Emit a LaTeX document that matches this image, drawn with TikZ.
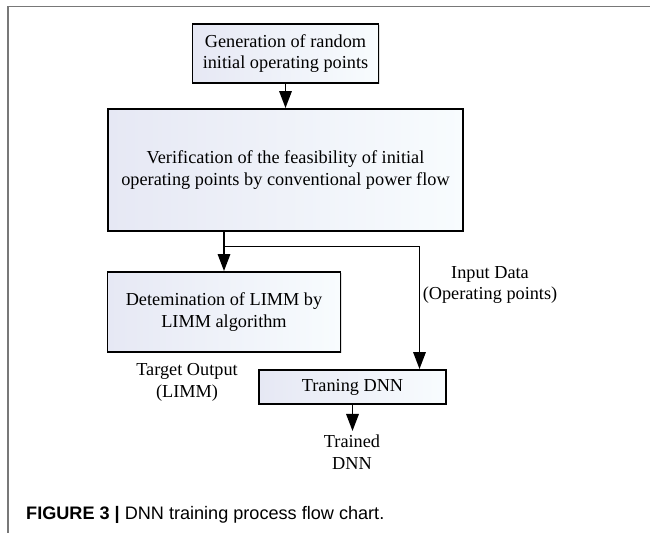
\documentclass[tikz,border=0pt]{standalone}
\usepackage{fontspec}
\setmainfont{Liberation Serif}
\newfontfamily\capfont{Liberation Sans}
\usetikzlibrary{arrows.meta, positioning, calc, shadows}
\definecolor{frameline}{RGB}{120, 120, 120}
\definecolor{shadeL}{RGB}{230, 232, 244}
\definecolor{shadeR}{RGB}{248, 252, 254}

\begin{document}
\begin{tikzpicture}[font=\fontsize{10.4}{12.2}\selectfont,
        b/.style={rectangle, draw=black, line width=1.1pt, left color=shadeL, right color=shadeR,
                  drop shadow={opacity=0.25, shadow xshift=0.6pt, shadow yshift=-0.6pt},
                  align=center, inner sep=0pt},
        flow/.style={-{Triangle[length=0.34cm, width=0.25cm]}, line width=0.95pt}]
    \useasboundingbox (0,0) rectangle (13,-10.66);
    % frame of the figure panel
    \draw[frameline, line width=0.9pt] (13,-0.13) -- (0.16,-0.13) -- (0.16,-10.66);

    \node[b, minimum width=3.72cm, minimum height=1.18cm] (gen) at (5.71,-1.07) {Generation of random\\initial operating points};
    \node[b, minimum width=7.10cm, minimum height=2.44cm] (ver) at (5.71,-3.40) {Verification of the feasibility of initial\\operating points by conventional power flow};
    \node[b, minimum width=4.66cm, minimum height=1.60cm] (lim) at (4.48,-6.24) {Detemination of LIMM by\\LIMM algorithm};
    \node[b, minimum width=3.73cm, minimum height=0.68cm] (trn) at (7.05,-7.74) {Traning DNN};

    \coordinate (inp) at (8.39,-4.93);
    \draw[flow] (gen.south) -- (ver.north);
    \draw[flow] (ver.south -| lim.north) -- (lim.north);
    \draw[line width=0.95pt] (lim.north |- inp) -- (inp);
    \draw[flow] (inp) -- (inp |- trn.north);
    \draw[flow] (trn.south) -- ++(0,-0.52) coordinate (out);

    \node[align=center] (indata) at (9.80,-5.70) {Input Data\\(Operating points)};
    \node[align=center] (target) at (3.74,-7.65) {Target Output\\(LIMM)};
    \node[align=center] (res) at (7.04,-9.04) {Trained\\DNN};

    \node[anchor=west, font=\capfont\fontsize{10.3}{12}\selectfont] (cap) at (0.40,-10.30)
        {\textbf{FIGURE 3 |} DNN training process flow chart.};
\end{tikzpicture}
\end{document}
